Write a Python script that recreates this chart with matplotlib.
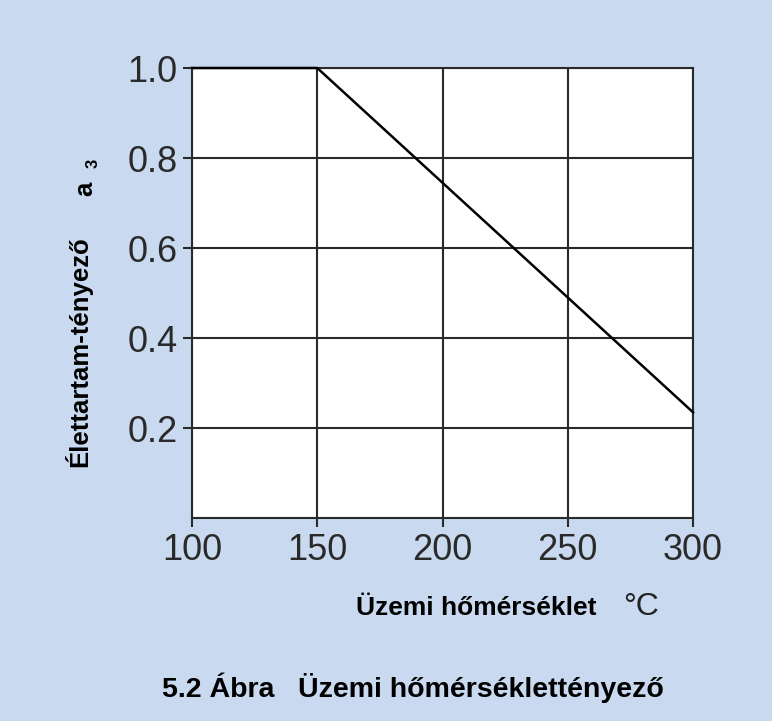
import numpy as np
import matplotlib
matplotlib.use("Agg")
import matplotlib.pyplot as plt

# temperature (C) vs. life factor a3
temps = [100, 150, 300]
factor = [1.0, 1.0, 0.235]

xticks = [100, 150, 200, 250, 300]
yticks = [0.2, 0.4, 0.6, 0.8, 1.0]
ytick_labels = ["0.2", "0.4", "0.6", "0.8", "1.0"]

BG = "#c9daf0"
W, H = 772, 721

plt.rcParams['font.family'] = ['Liberation Sans', 'DejaVu Sans']

fig = plt.figure(figsize=(W / 100, H / 100), dpi=100)
fig.patch.set_facecolor(BG)
ax = fig.add_axes([192 / W, 1 - 518 / H, (693 - 192) / W, (518 - 68) / H])

ax.plot(temps, factor, color="black", lw=1.8, zorder=3, clip_on=False)

ax.set_xlim(100, 300)
ax.set_ylim(0, 1.0)
ax.set_xticks(xticks)
ax.set_yticks(yticks)
ax.set_yticklabels(ytick_labels)
ax.grid(True, color="#2a2a2a", lw=1.5)
ax.set_axisbelow(True)
for s in ax.spines.values():
    s.set_color("#2a2a2a")
    s.set_linewidth(1.5)
ax.tick_params(axis="both", direction="out", length=6.5, width=1.5, color="#2a2a2a",
               labelsize=26, labelcolor="#2a2a2a", pad=4)


def px(x, y):
    return x / W, 1 - y / H


# axis labels and caption
fig.text(*px(356, 615), "Üzemi hőmérséklet", ha="left", va="baseline",
         fontsize=19, fontweight="bold", color="black")
fig.text(*px(623, 615), "°C", ha="left", va="baseline", fontsize=23, color="#222222")

ylab = dict(rotation=90, rotation_mode="anchor", ha="left", va="baseline", color="black")
fig.text(*px(87, 467), "Élettartam-tényező", fontsize=18.5, fontweight="bold", **ylab)
fig.text(*px(92, 196), "a", fontsize=18.5, fontweight="bold", **ylab)
fig.text(*px(98, 168), "3", fontsize=12, fontweight="bold", **ylab)

fig.text(*px(162, 697), "5.2 Ábra   Üzemi hőmérséklettényező", ha="left", va="baseline",
         fontsize=20.5, fontweight="bold", color="black")

fig.savefig("out.png", dpi=100, facecolor=BG)
